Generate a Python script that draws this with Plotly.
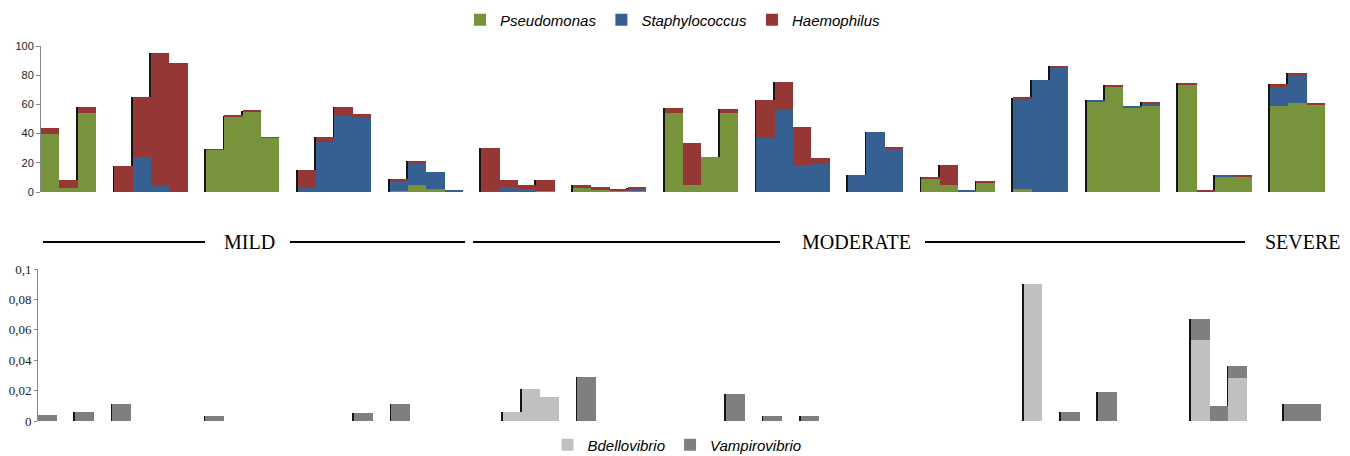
import plotly.graph_objects as go

# --- top panel: relative abundance (%) of pathogens, bars grouped per patient ---
group_sizes = [3, 4, 4, 4, 4, 4, 4, 4, 4, 3, 4, 3, 4, 4, 3]

pseudomonas = [40, 3, 54,
               0, 0, 0, 0,
               29, 52, 55, 37,
               0, 0, 0, 0,
               0.7, 5, 2.3, 0.5,
               0, 0, 0, 0.7,
               3.2, 1.6, 1.1, 0.8,
               54, 4.5, 24, 54,
               0, 0, 0, 0,
               0, 0, 0,
               9.3, 5, 0.3, 6.6,
               2, 0, 0,
               62, 72.5, 57.3, 59.3,
               73.6, 0.3, 10.7, 10.2,
               59, 60.7, 60.2]

staphylococcus = [0, 0, 0,
                  0, 24, 4, 0,
                  0, 0, 0, 0.6,
                  3, 34, 52, 51,
                  7, 15.5, 11.1, 0.9,
                  0.7, 3.2, 2.3, 0,
                  0, 0, 0, 1.5,
                  0, 0, 0, 0,
                  37.3, 56, 18.4, 19,
                  11.6, 41, 30,
                  0, 0, 1.1, 0,
                  62, 76.6, 85.2,
                  0.7, 0, 1.7, 1.2,
                  0, 0, 0.9, 0,
                  13, 20, 0]

haemophilus = [4, 5, 4,
               18, 41, 91.5, 88.5,
               0.4, 0.4, 0.6, 0,
               12, 3.4, 6.4, 2.4,
               1.3, 0.9, 0, 0,
               29.3, 5.2, 2.5, 7.3,
               1.3, 2, 0.9, 0.7,
               3.6, 29.4, 0, 3,
               26, 19.5, 26, 4.6,
               0, 0, 1,
               0.9, 13.4, 0, 0.7,
               0.5, 0, 0.8,
               0, 0.9, 0, 0.9,
               1.4, 1.3, 0, 1.6,
               1.9, 0.9, 0.8]

# --- bottom panel: predator bacteria, 70 slots (None = no bar) ---
N = None
bdellovibrio = [N, N, N, N, N, N, N, N, N, N,
                N, N, N, N, N, N, N, N, N, N,
                N, N, N, N, N, 0.006, 0.021, 0.016, N, N,
                N, N, N, N, N, N, N, N, N, N,
                N, N, N, N, N, N, N, N, N, N,
                N, N, N, 0.09, N, N, N, N, N, N,
                N, N, 0.053, N, 0.028, N, N, N, N, N]
vampirovibrio = [0.004, N, 0.006, N, 0.011, N, N, N, N, 0.003,
                 N, N, N, N, N, N, N, 0.005, N, 0.011,
                 N, N, N, N, N, N, N, N, N, 0.029,
                 N, N, N, N, N, N, N, 0.018, N, 0.003,
                 N, 0.003, N, N, N, N, N, N, N, N,
                 N, N, N, N, N, 0.006, N, 0.019, N, N,
                 N, N, 0.014, 0.010, 0.008, N, N, 0.011, 0.011, N]

severity = ["MILD", "MODERATE", "SEVERE"]

GREEN, BLUE, RED = "#77933C", "#376092", "#953735"
LIGHT, DARK = "#C0C0C0", "#7F7F7F"
AXIS = "#868686"

# page body keeps its 8px margin, so the figure starts at (8, 8) in the window
FW, FH = 1342, 448


def px(x):
    return (x - 8) / FW


def py(y):
    return 1 - (y - 8) / FH


# one empty slot between patients
xs = []
slot = 0
for n in group_sizes:
    xs += list(range(slot, slot + n))
    slot += n + 1

totals = [a + b + c for a, b, c in zip(pseudomonas, staphylococcus, haemophilus)]

fig = go.Figure()

# dark shadow behind each bar (3D look of the original)
fig.add_trace(go.Bar(x=[x - 0.1 for x in xs], y=totals, width=1, marker=dict(color="#151515", line=dict(width=0)),
                     showlegend=False, hoverinfo="skip", xaxis="x", yaxis="y"))
for name, vals, col in [("Pseudomonas", pseudomonas, GREEN),
                        ("Staphylococcus", staphylococcus, BLUE),
                        ("Haemophilus", haemophilus, RED)]:
    fig.add_trace(go.Bar(x=xs, y=vals, width=1, name=name, marker=dict(color=col, line=dict(width=0)),
                         xaxis="x", yaxis="y", legend="legend"))

slots = list(range(len(vampirovibrio)))
bottom_tot = []
for a, b in zip(bdellovibrio, vampirovibrio):
    bottom_tot.append(None if a is None and b is None else (a or 0) + (b or 0))
fig.add_trace(go.Bar(x=[s - 0.1 for s in slots], y=bottom_tot, width=1, marker=dict(color="#151515", line=dict(width=0)),
                     showlegend=False, hoverinfo="skip", xaxis="x2", yaxis="y2"))
for name, vals, col in [("Bdellovibrio", bdellovibrio, LIGHT), ("Vampirovibrio", vampirovibrio, DARK)]:
    fig.add_trace(go.Bar(x=slots, y=vals, width=1, name=name, marker=dict(color=col, line=dict(width=0)),
                         xaxis="x2", yaxis="y2", legend="legend2"))

# severity labels with rules between the panels
ly = py(242)
for x0, x1 in [(43, 205), (290, 465), (473, 780), (925, 1245)]:
    fig.add_shape(type="line", xref="paper", yref="paper", x0=px(x0), x1=px(x1), y0=ly, y1=ly,
                  line=dict(color="black", width=2))
for label, cx in zip(severity, [249, 856, 1303]):
    fig.add_annotation(text=label, x=px(cx), y=ly, xref="paper", yref="paper", showarrow=False,
                       xanchor="center", yanchor="middle",
                       font=dict(family="Liberation Serif", size=20, color="black"))

legend_font = dict(family="Liberation Sans", size=15, style="italic", color="black")

fig.update_layout(
    width=FW, height=FH,
    margin=dict(l=0, r=0, t=0, b=0, autoexpand=False),
    template="none",
    paper_bgcolor="white", plot_bgcolor="white",
    barmode="stack", bargap=0,
    separators=",.",
    xaxis=dict(domain=[px(41), px(1325)], range=[-0.5, 69.5], visible=False, automargin=False),
    yaxis=dict(domain=[py(192), py(46)], range=[0, 100], dtick=20, showgrid=False, zeroline=False,
               showline=True, linecolor=AXIS, linewidth=1, ticks="outside", ticklen=4, tickcolor=AXIS,
               tickfont=dict(family="Liberation Sans", size=11, color="#222"), automargin=False),
    xaxis2=dict(domain=[px(38), px(1340)], range=[-0.5, 69.5], visible=False, anchor="y2", automargin=False),
    yaxis2=dict(domain=[py(421), py(269)], range=[0, 0.1], dtick=0.02, showgrid=False, zeroline=False,
                showline=True, linecolor=AXIS, linewidth=1, ticks="outside", ticklen=3, tickcolor=AXIS,
                tickfont=dict(family="Liberation Serif", size=13, color="#222"), anchor="x2", automargin=False),
    legend=dict(orientation="h", x=px(673), y=py(20), xanchor="center", yanchor="middle",
                traceorder="normal", font=legend_font, itemwidth=30, bgcolor="rgba(0,0,0,0)"),
    legend2=dict(orientation="h", x=px(677), y=py(445), xanchor="center", yanchor="middle",
                 traceorder="normal", font=legend_font, itemwidth=30, bgcolor="rgba(0,0,0,0)"),
)

fig.write_html("out.html")
